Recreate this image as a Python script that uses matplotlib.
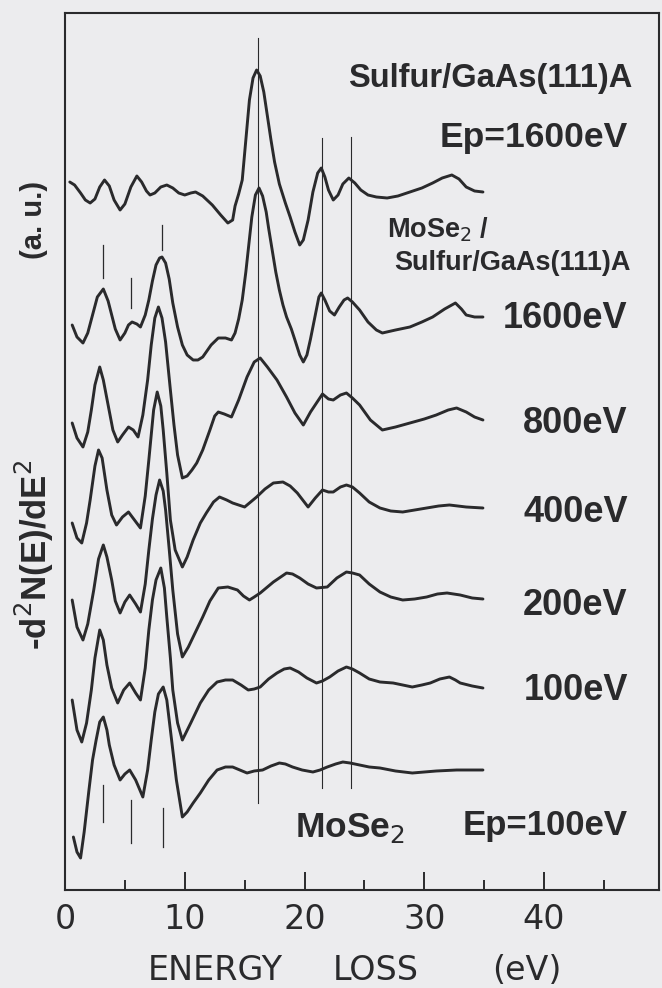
import numpy as np
import matplotlib
matplotlib.use("Agg")
import matplotlib.pyplot as plt

# EELS second-derivative spectra
# energies (eV) and intensities (a.u., relative to each curve's tail at 35 eV)
E_sulfur = [0.4, 0.8, 1.3, 1.7, 2.1, 2.5, 2.9, 3.3, 3.7, 4.1, 4.6, 5.0, 5.5, 6.0, 6.4, 6.8, 7.1, 7.5,
            8.0, 8.5, 9.0, 9.5, 10.0, 10.5, 10.9, 11.5, 12.3, 13.0, 13.6, 14.0, 14.2, 14.5, 14.8, 15.1,
            15.4, 15.7, 16.0, 16.3, 16.6, 16.9, 17.2, 17.5, 17.9, 18.4, 18.8, 19.2, 19.6, 19.9, 20.3,
            20.7, 21.1, 21.4, 21.7, 22.0, 22.4, 22.8, 23.2, 23.7, 24.2, 24.7, 25.3, 26.0, 26.9, 27.8,
            28.8, 29.8, 30.7, 31.5, 32.3, 32.9, 33.5, 34.2, 34.9]
I_sulfur = [0.10, 0.07, -0.01, -0.08, -0.11, -0.07, 0.05, 0.12, 0.06, -0.08, -0.18, -0.12, 0.05, 0.16, 0.10, 0.01, -0.03, -0.01,
            0.05, 0.07, 0.04, -0.01, -0.03, -0.01, 0.00, -0.04, -0.13, -0.23, -0.31, -0.28, -0.14, -0.02, 0.12, 0.52,
            0.92, 1.14, 1.22, 1.16, 1.00, 0.76, 0.52, 0.30, 0.08, -0.11, -0.25, -0.40, -0.53, -0.48, -0.28,
            0.00, 0.19, 0.24, 0.15, 0.02, -0.08, -0.03, 0.08, 0.14, 0.09, 0.02, -0.03, -0.05, -0.06, -0.04,
            0.00, 0.04, 0.09, 0.14, 0.17, 0.13, 0.05, 0.01, 0.00]

E_1600 = [0.6, 1.0, 1.5, 1.9, 2.3, 2.7, 3.2, 3.6, 3.9, 4.2, 4.6, 5.0, 5.3, 5.6, 6.0, 6.3, 6.7, 7.0, 7.3,
          7.6, 7.9, 8.1, 8.4, 8.7, 9.0, 9.4, 9.8, 10.2, 10.7, 11.1, 11.5, 12.2, 12.8, 13.4, 13.9, 14.2,
          14.5, 14.8, 15.1, 15.3, 15.6, 15.9, 16.2, 16.5, 16.8, 17.0, 17.3, 17.6, 17.9, 18.2, 18.5, 18.9,
          19.2, 19.6, 19.9, 20.2, 20.5, 20.9, 21.2, 21.4, 21.7, 22.1, 22.5, 22.9, 23.3, 23.6, 24.0, 24.6,
          25.3, 26.0, 26.5, 27.6, 28.8, 29.8, 30.7, 31.7, 32.6, 33.1, 33.5, 34.2, 34.9]
I_1600 = [-0.08, -0.20, -0.26, -0.16, 0.02, 0.20, 0.28, 0.16, 0.02, -0.12, -0.23, -0.16, -0.08, -0.05, -0.07, -0.10, 0.02, 0.17, 0.36,
          0.52, 0.59, 0.60, 0.54, 0.38, 0.14, -0.10, -0.28, -0.38, -0.43, -0.43, -0.40, -0.28, -0.21, -0.21, -0.23, -0.16,
          -0.02, 0.17, 0.45, 0.67, 1.00, 1.22, 1.29, 1.21, 1.05, 0.89, 0.67, 0.45, 0.27, 0.12, 0.00, -0.12,
          -0.23, -0.38, -0.45, -0.38, -0.22, 0.02, 0.20, 0.24, 0.17, 0.06, 0.02, 0.10, 0.17, 0.19, 0.15, 0.07,
          -0.05, -0.13, -0.16, -0.13, -0.10, -0.05, 0.00, 0.08, 0.14, 0.08, 0.02, 0.00, 0.00]

E_800 = [0.6, 1.0, 1.5, 1.9, 2.2, 2.5, 2.9, 3.2, 3.6, 4.0, 4.4, 4.8, 5.3, 5.7, 6.1, 6.5, 6.9, 7.2, 7.5,
         7.8, 8.1, 8.4, 8.8, 9.1, 9.4, 9.8, 10.2, 10.6, 11.0, 11.5, 12.1, 12.5, 12.8, 13.3, 13.9, 14.5,
         15.2, 15.8, 16.3, 16.9, 17.7, 18.5, 19.2, 19.9, 20.5, 21.0, 21.5, 22.0, 22.4, 23.0, 23.5, 24.0,
         24.6, 25.5, 26.5, 27.6, 28.8, 30.0, 31.0, 32.0, 32.7, 33.5, 34.2, 34.9]
I_800 = [-0.03, -0.18, -0.27, -0.12, 0.10, 0.35, 0.53, 0.40, 0.15, -0.10, -0.22, -0.15, -0.07, -0.10, -0.17, 0.05, 0.40, 0.75, 1.02,
         1.13, 1.02, 0.78, 0.30, -0.05, -0.35, -0.58, -0.56, -0.50, -0.43, -0.30, -0.10, 0.04, 0.08, 0.06, 0.03, 0.20,
         0.43, 0.58, 0.62, 0.53, 0.40, 0.23, 0.07, -0.05, 0.08, 0.17, 0.26, 0.21, 0.20, 0.25, 0.27, 0.22,
         0.15, 0.00, -0.10, -0.07, -0.03, 0.01, 0.05, 0.10, 0.12, 0.08, 0.03, 0.00]

E_400 = [0.6, 1.0, 1.4, 1.8, 2.1, 2.5, 2.8, 3.1, 3.5, 3.9, 4.3, 4.8, 5.3, 5.8, 6.3, 6.7, 7.0, 7.4, 7.7,
         8.0, 8.2, 8.5, 8.8, 9.2, 9.8, 10.2, 10.7, 11.3, 11.8, 12.4, 12.9, 13.5, 14.0, 15.0, 16.0, 16.7,
         17.4, 18.2, 18.8, 19.4, 20.3, 20.9, 21.5, 22.0, 22.4, 23.0, 23.5, 24.0, 24.6, 25.4, 26.3, 27.2,
         28.2, 29.2, 30.2, 31.2, 32.1, 33.5, 34.9]
I_400 = [-0.15, -0.30, -0.35, -0.15, 0.08, 0.42, 0.58, 0.50, 0.18, -0.07, -0.17, -0.09, -0.04, -0.12, -0.20, 0.12, 0.48, 0.98, 1.16,
         1.02, 0.78, 0.35, -0.12, -0.42, -0.59, -0.49, -0.32, -0.15, -0.05, 0.06, 0.11, 0.08, 0.05, 0.01, 0.11, 0.19,
         0.25, 0.26, 0.22, 0.15, 0.01, 0.10, 0.18, 0.16, 0.16, 0.21, 0.23, 0.21, 0.15, 0.06, 0.00, -0.03,
         -0.04, -0.02, 0.00, 0.02, 0.03, 0.01, 0.00]

E_200 = [0.6, 1.0, 1.5, 1.9, 2.4, 2.8, 3.2, 3.5, 3.9, 4.2, 4.6, 5.0, 5.4, 5.9, 6.3, 6.7, 7.0, 7.3, 7.6,
         7.9, 8.2, 8.4, 8.7, 9.0, 9.4, 9.8, 10.3, 10.9, 11.5, 12.1, 12.8, 13.6, 14.4, 14.9, 15.4, 15.8,
         16.3, 17.4, 18.5, 19.0, 19.6, 20.3, 21.0, 21.9, 22.7, 23.5, 24.0, 24.6, 25.4, 26.3, 27.2, 28.2,
         29.2, 30.2, 31.1, 31.9, 33.0, 34.0, 34.9]
I_200 = [-0.01, -0.28, -0.41, -0.25, 0.09, 0.40, 0.54, 0.42, 0.19, -0.02, -0.14, -0.03, 0.04, -0.05, -0.13, 0.15, 0.49, 0.80, 1.04,
         1.19, 1.08, 0.89, 0.50, 0.09, -0.35, -0.58, -0.48, -0.33, -0.18, -0.02, 0.11, 0.12, 0.09, 0.03, -0.01, 0.02,
         0.06, 0.17, 0.26, 0.25, 0.21, 0.15, 0.11, 0.12, 0.21, 0.27, 0.26, 0.24, 0.15, 0.07, 0.02, -0.01,
         0.00, 0.02, 0.05, 0.06, 0.04, 0.01, 0.00]

E_100 = [0.6, 1.0, 1.4, 1.8, 2.2, 2.5, 2.9, 3.2, 3.5, 3.9, 4.4, 4.9, 5.4, 5.9, 6.3, 6.7, 7.0, 7.3, 7.6,
         8.0, 8.3, 8.5, 8.8, 9.0, 9.4, 9.8, 10.5, 11.3, 12.0, 12.7, 13.4, 14.0, 14.7, 15.3, 15.8, 16.3,
         17.0, 17.7, 18.3, 18.8, 19.5, 20.2, 21.0, 21.5, 22.1, 22.8, 23.5, 24.0, 24.6, 25.4, 26.3, 27.4,
         28.2, 29.0, 29.8, 30.5, 31.3, 32.1, 32.6, 33.0, 34.0, 34.9]
I_100 = [-0.12, -0.42, -0.54, -0.35, -0.02, 0.30, 0.58, 0.48, 0.23, 0.00, -0.15, -0.02, 0.05, -0.05, -0.12, 0.20, 0.58, 0.88, 1.08,
         1.20, 1.00, 0.71, 0.30, -0.02, -0.35, -0.52, -0.35, -0.15, -0.02, 0.06, 0.08, 0.08, 0.03, -0.02, -0.01, 0.01,
         0.09, 0.15, 0.19, 0.20, 0.16, 0.10, 0.05, 0.07, 0.11, 0.17, 0.21, 0.19, 0.15, 0.09, 0.06, 0.05,
         0.03, 0.01, 0.03, 0.05, 0.09, 0.11, 0.08, 0.05, 0.02, 0.00]

E_mose2 = [0.7, 1.0, 1.3, 1.6, 2.0, 2.3, 2.6, 2.9, 3.2, 3.5, 3.7, 4.1, 4.6, 5.0, 5.4, 5.9, 6.5, 6.9, 7.2,
           7.5, 7.8, 8.2, 8.5, 8.7, 9.0, 9.3, 9.8, 10.2, 10.7, 11.3, 12.0, 12.7, 13.4, 14.0, 14.6, 15.2,
           15.8, 16.5, 17.2, 17.9, 18.4, 19.0, 19.8, 20.7, 21.3, 21.9, 22.6, 23.2, 23.8, 24.6, 25.4, 26.3,
           27.6, 29.0, 30.0, 31.0, 32.7, 34.9]
I_mose2 = [-0.67, -0.82, -0.88, -0.62, -0.20, 0.10, 0.30, 0.48, 0.53, 0.40, 0.25, 0.05, -0.10, -0.04, 0.00, -0.10, -0.27, 0.00, 0.30,
           0.58, 0.76, 0.83, 0.70, 0.50, 0.20, -0.10, -0.47, -0.42, -0.33, -0.23, -0.10, 0.00, 0.03, 0.03, 0.00, -0.03,
           -0.01, 0.00, 0.04, 0.07, 0.06, 0.03, 0.00, -0.02, 0.00, 0.03, 0.06, 0.08, 0.07, 0.05, 0.03, 0.02,
           -0.01, -0.03, -0.02, -0.01, 0.00, 0.00]

spectra = [(E_sulfur, I_sulfur), (E_1600, I_1600), (E_800, I_800), (E_400, I_400),
           (E_200, I_200), (E_100, I_100), (E_mose2, I_mose2)]
offsets = [6.98, 5.73, 4.70, 3.82, 2.91, 2.02, 1.20]
ep_labels = ["1600eV", "800eV", "400eV", "200eV", "100eV"]
ep_label_y = [5.62, 4.57, 3.68, 2.75, 1.90]

# guide lines: long ones through the loss peaks, short markers for the MoSe2 features
peak_lines = [16.1, 21.45, 23.9]
peak_line_top = [8.52, 7.52, 7.53]
peak_line_bottom = [0.87, 1.02, 1.02]
marks_top_E = [3.2, 5.5, 8.1]
marks_top_y = [(6.12, 6.45), (5.82, 6.12), (6.40, 6.65)]
marks_bot_E = [3.2, 5.5, 8.2]
marks_bot_y = [(0.68, 1.05), (0.47, 0.90), (0.43, 0.82)]

ink = "#2a2a2c"
paper = "#ececee"
lab_font = ["Liberation Sans", "DejaVu Sans"]
tick_font = ["Liberation Sans Narrow", "DejaVu Sans"]

fig = plt.figure(figsize=(6.62, 9.88), dpi=100, facecolor=paper)
ax = fig.add_axes([65 / 662, 1 - 890 / 988, 594 / 662, 877 / 988], facecolor=paper)

for (E, I), off in zip(spectra, offsets):
    ax.plot(E, np.array(I) + off, color=ink, lw=2.1, solid_joinstyle="round", solid_capstyle="round")

for x, y0, y1 in zip(peak_lines, peak_line_bottom, peak_line_top):
    ax.plot([x, x], [y0, y1], color=ink, lw=0.8)
for x, (y0, y1) in zip(marks_top_E, marks_top_y):
    ax.plot([x, x], [y0, y1], color=ink, lw=0.9)
for x, (y0, y1) in zip(marks_bot_E, marks_bot_y):
    ax.plot([x, x], [y0, y1], color=ink, lw=0.9)

ax.set_xlim(0, 49.6)
ax.set_ylim(0, 8.77)

# annotations
kw = dict(va="baseline", color=ink, family=lab_font, fontweight="bold")
ax.text(47.4, 8.03, "Sulfur/GaAs(111)A", ha="right", fontsize=23.5, **kw)
ax.text(47.0, 7.43, "Ep=1600eV", ha="right", fontsize=25.5, **kw)
ax.text(26.9, 6.53, "MoSe$_2$ /", ha="left", fontsize=19.5, **kw)
ax.text(47.2, 6.20, "Sulfur/GaAs(111)A", ha="right", fontsize=19.5, **kw)
for lab, yb in zip(ep_labels, ep_label_y):
    ax.text(47.0, yb, lab, ha="right", fontsize=26, **kw)
ax.text(47.0, 0.55, "Ep=100eV", ha="right", fontsize=25, **kw)
ax.text(19.2, 0.53, "MoSe$_2$", ha="left", fontsize=25.5, **kw)

for s in ax.spines.values():
    s.set_color(ink)
    s.set_linewidth(1.5)

ax.set_xticks([0, 10, 20, 30, 40])
ax.set_xticks([5, 15, 25, 35, 45], minor=True)
ax.set_yticks([])
ax.tick_params(axis="x", which="major", direction="in", length=13, width=1.4, color=ink,
               pad=9, labelsize=24, labelcolor=ink)
ax.tick_params(axis="x", which="minor", direction="in", length=7, width=1.4, color=ink)
for t in ax.get_xticklabels():
    t.set_family(tick_font)

# axis titles
fig.text(148 / 662, 1 - 980 / 988, "ENERGY", fontsize=24, color=ink, family=tick_font, va="baseline")
fig.text(333 / 662, 1 - 980 / 988, "LOSS", fontsize=24, color=ink, family=tick_font, va="baseline")
fig.text(492 / 662, 1 - 980 / 988, "(eV)", fontsize=24, color=ink, family=tick_font, va="baseline")
fig.text(34 / 662, 1 - 555 / 988, "-d$^2$N(E)/dE$^2$", rotation=90, ha="center", va="center",
         fontsize=25, color=ink, family=lab_font, fontweight="bold")
fig.text(34 / 662, 1 - 220 / 988, "(a. u.)", rotation=90, ha="center", va="center",
         fontsize=21, color=ink, family=lab_font, fontweight="bold")

fig.savefig("out.png", dpi=100, facecolor=paper)
